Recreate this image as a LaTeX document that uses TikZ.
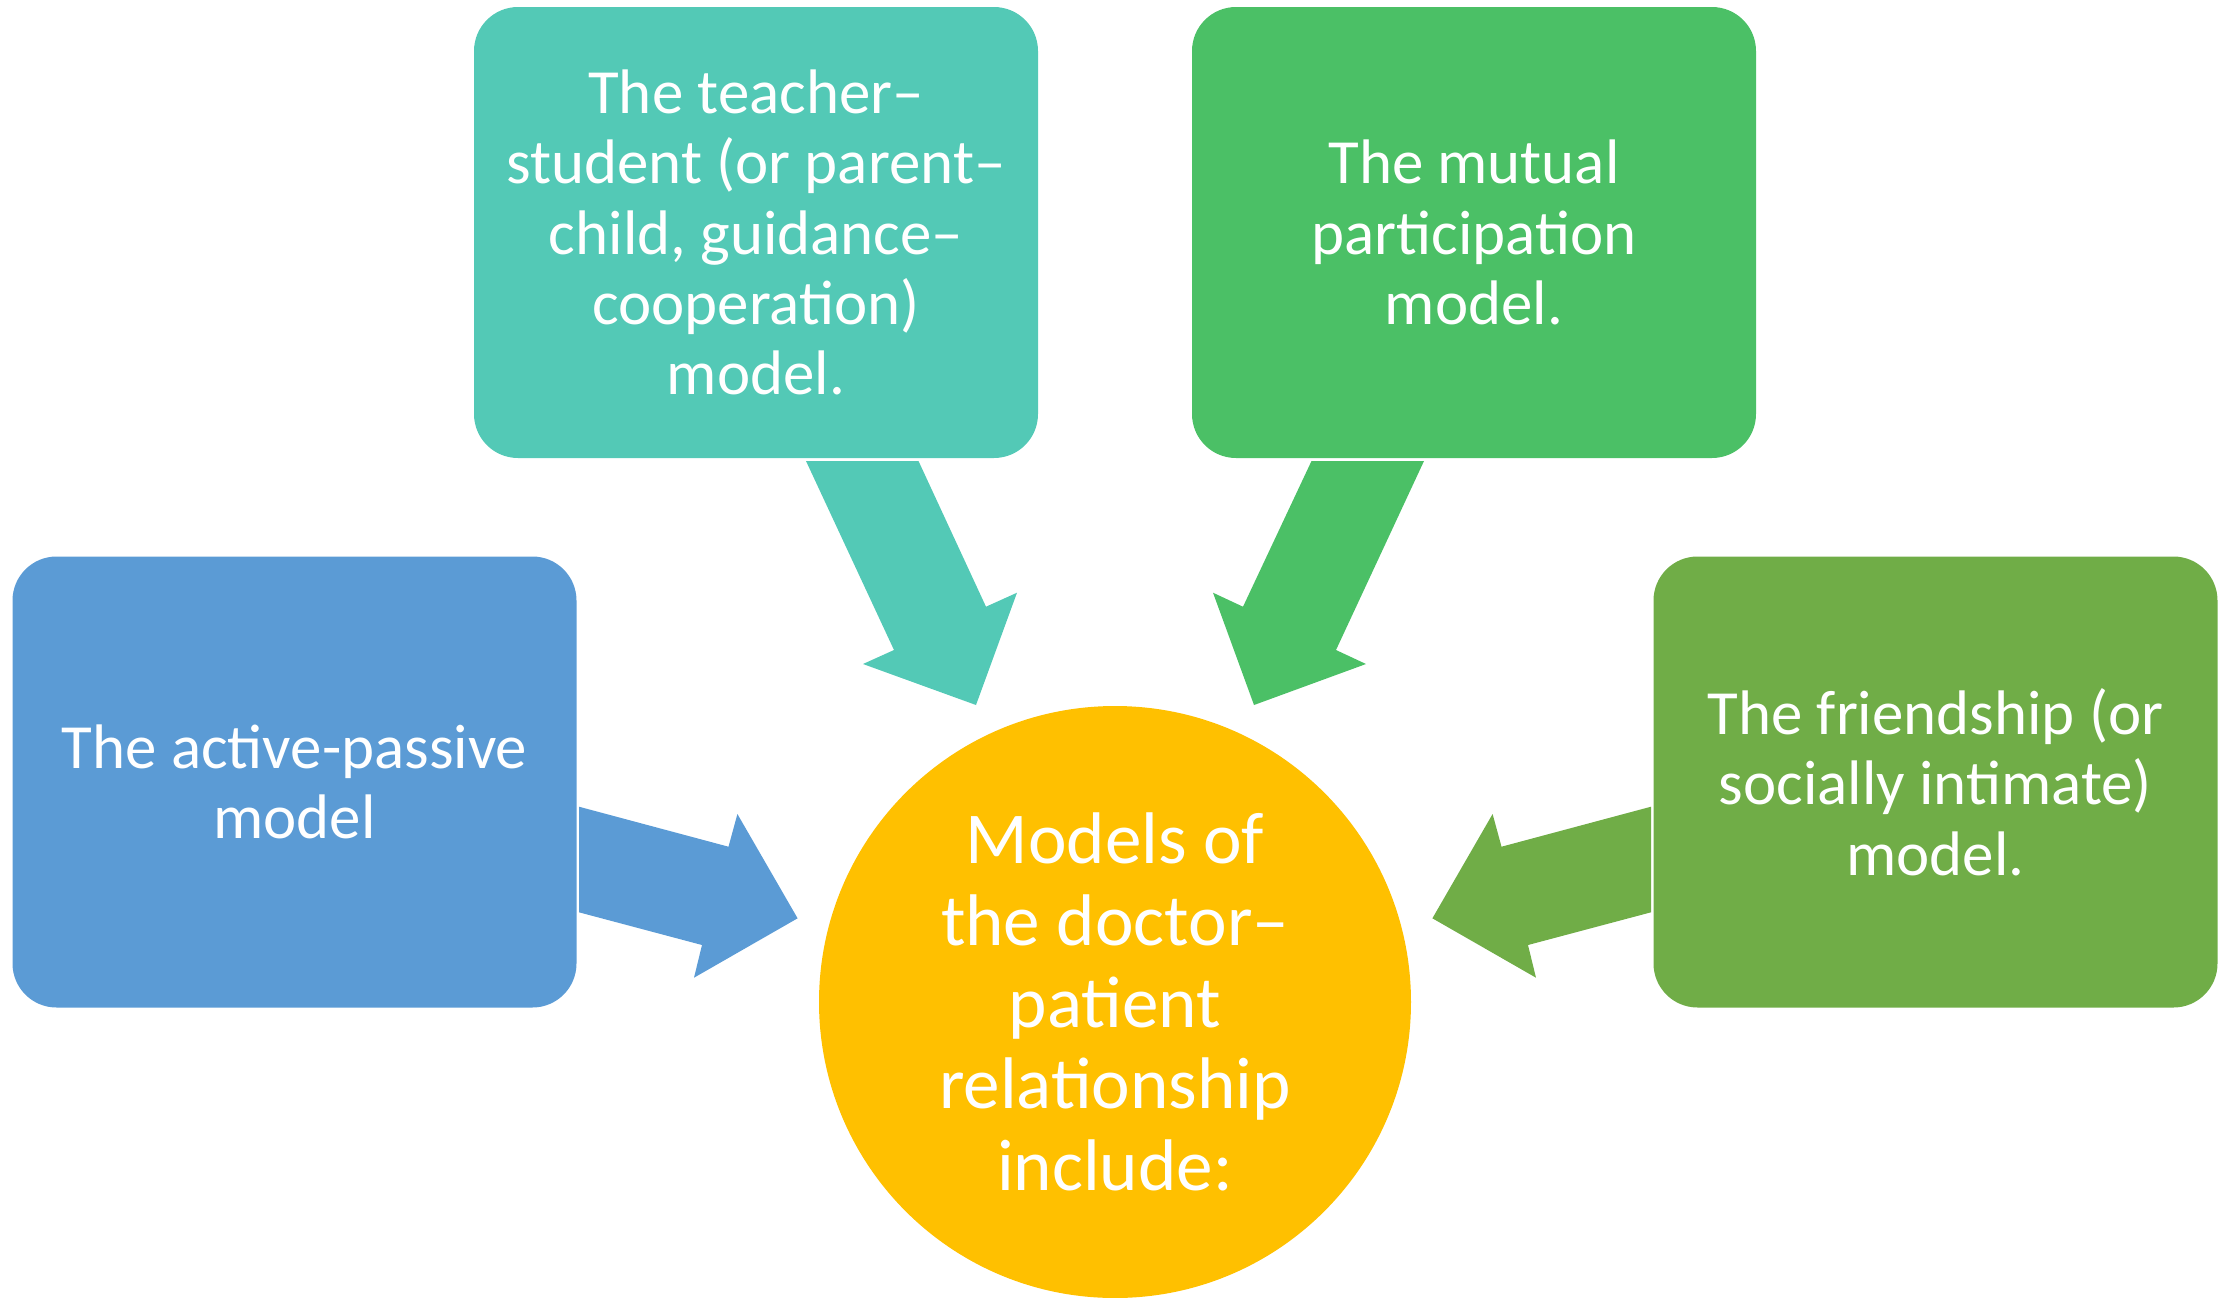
\documentclass[tikz,border=0pt]{standalone}
\usepackage{fontspec}
\setmainfont{Carlito}
\usepackage{tikz}
\usetikzlibrary{positioning}
\usepackage{xcolor}

\definecolor{bluebox}{HTML}{5B9BD5}
\definecolor{tealbox}{HTML}{53C9B6}
\definecolor{greenbox}{HTML}{4BC066}
\definecolor{olivebox}{HTML}{70AD47}
\definecolor{goldcirc}{HTML}{FFC000}

\tikzset{
  modelbox/.style={rectangle, rounded corners=4.4mm, minimum width=56.4mm, minimum height=45.1mm,
    inner sep=0pt, align=center, text=white, font=\fontsize{17.9pt}{20pt}\selectfont},
  centrecirc/.style={circle, fill=goldcirc, minimum size=59.2mm, inner sep=0pt, align=center,
    text=white, font=\fontsize{20.8pt}{23.3pt}\selectfont}
}

\begin{document}
\begin{tikzpicture}[x=0.1mm,y=-0.1mm]
\useasboundingbox (0,0) rectangle (2234,1297);

\node[modelbox, fill=bluebox] (active) at (294.5,782) {The active-passive\\model};
\node[modelbox, fill=tealbox] (teacher) at (756,232.5) {The teacher–\\student (or parent–\\child, guidance–\\cooperation)\\model.};
\node[modelbox, fill=greenbox] (mutual) at (1474,232.5) {The mutual\\participation\\model.};
\node[modelbox, fill=olivebox] (friend) at (1935.5,782) {The friendship (or\\socially intimate)\\model.};
\node[centrecirc] (models) at (1115,1002) {Models of\\the doctor–\\patient\\relationship\\include:};

% block arrows
\fill[bluebox] (579,806.7) -- (728.5,846.7) -- (737.4,814) -- (797.6,918.3) -- (694,977.7) -- (702,945) -- (579,912.3) -- cycle;
\fill[tealbox] (806,461) -- (918.5,461) -- (986,606.7) -- (1017,592.7) -- (976,705) -- (863,664) -- (894,650) -- cycle;
\fill[greenbox] (1424,461) -- (1311.5,461) -- (1243,606.7) -- (1213,592.7) -- (1254,705) -- (1366,664) -- (1336,650) -- cycle;
\fill[olivebox] (1651,806.7) -- (1501.5,846.7) -- (1492.6,814) -- (1432.4,918.3) -- (1536,977.7) -- (1528,945) -- (1651,912.3) -- cycle;
\end{tikzpicture}
\end{document}
